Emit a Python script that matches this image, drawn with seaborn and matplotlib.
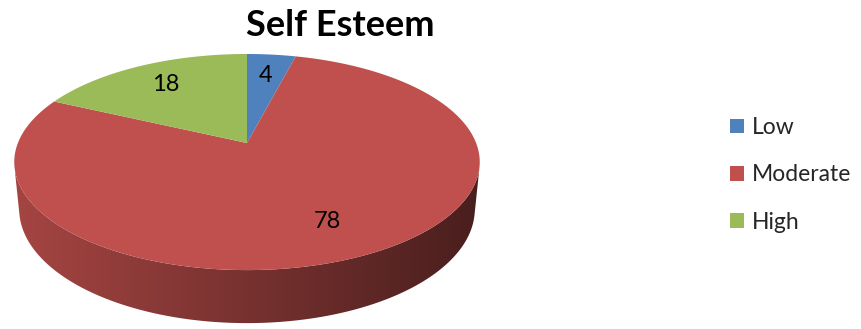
import numpy as np
import matplotlib
matplotlib.use("Agg")
import matplotlib.pyplot as plt
import seaborn as sns
from matplotlib.patches import Patch, Polygon
from matplotlib.colors import LinearSegmentedColormap, to_rgb
from matplotlib.transforms import Transform
from matplotlib.path import Path

categories = ["Low", "Moderate", "High"]
values = [4, 78, 18]
colors = ["#4F81BD", "#C0504D", "#9BBB59"]
title = "Self Esteem"

sns.set_theme(style="white")
plt.rcParams['font.family'] = ['Lato', 'DejaVu Sans']

W, H = 862, 329
fig = plt.figure(figsize=(W / 100, H / 100), dpi=100)

# ---- perspective camera for the 3-D pie (unit-radius disk, thickness h) ----
CX, CY = 247.0, 143.0          # screen position of the pie centre (pixels)
DIST, FOC = 5.05, 1157.0       # camera distance and focal length
PHI = np.arcsin(0.457)         # tilt of the view
THICK = 0.233                  # slab thickness (in pie radii)


def project(x, y, z=0.0):
    d = DIST + y * np.cos(PHI) - z * np.sin(PHI)
    X = CX + FOC * x / d
    Y = CY - FOC * (y * np.sin(PHI) + z * np.cos(PHI)) / d
    return X, Y


class Perspective(Transform):
    input_dims = output_dims = 2
    is_separable = False
    has_inverse = False

    def __init__(self, z=0.0):
        super().__init__()
        self.z = z

    def transform_non_affine(self, values):
        v = np.asarray(values, dtype=float).reshape(-1, 2)
        X, Y = project(v[:, 0], v[:, 1], self.z)
        return np.column_stack([X, Y])

    def transform_path_non_affine(self, path):
        pts = []
        for seg, code in path.iter_bezier():
            cp = seg.control_points
            if len(cp) == 1:
                pts.append(cp)
            else:
                pts.append(seg(np.linspace(0, 1, 40)[1:]))
        xy = self.transform_non_affine(np.vstack(pts))
        return Path(np.vstack([xy, xy[:1]]), closed=True)


ax = fig.add_axes([0, 0, 1, 1])
persp = Perspective(0.0) + ax.transData

wedges, texts, autotexts = ax.pie(
    values, colors=colors, startangle=90, counterclock=False,
    autopct=lambda p: f"{p:.0f}", pctdistance=0.73, radius=1,
    wedgeprops=dict(linewidth=0),
    textprops=dict(fontsize=17, color="black"))
ax.set_aspect('auto')
ax.set_xlim(0, W)
ax.set_ylim(H, 0)
ax.axis('off')

for w in wedges:
    w.set_transform(persp)
    w.set_zorder(2)
for t in autotexts:
    t.set_transform(persp)
    t.set_zorder(3)

# ---- visible side wall (front half between the two silhouette generators) ----
s = -1.0 / (DIST * np.cos(PHI))
vis0 = np.degrees(np.pi - np.arcsin(s))       # left silhouette
vis1 = np.degrees(2 * np.pi + np.arcsin(s))   # right silhouette
full = np.radians(np.linspace(vis0, vis1, 300))
sx_all, _ = project(np.cos(full), np.sin(full), 0.0)
xmin, xmax = sx_all.min(), sx_all.max()
grad = np.linspace(0, 1, 256).reshape(1, -1)

for w, c in zip(wedges, colors):
    for shift in (-720, -360, 0, 360):
        a0 = max(w.theta1 + shift, vis0)
        a1 = min(w.theta2 + shift, vis1)
        if a1 <= a0:
            continue
        th = np.radians(np.linspace(a0, a1, 200))
        tx, ty = project(np.cos(th), np.sin(th), 0.0)
        bx, by = project(np.cos(th), np.sin(th), -THICK)
        pts = np.vstack([np.column_stack([tx, ty]),
                         np.column_stack([bx[::-1], by[::-1]])])
        side = Polygon(pts, closed=True, facecolor='none', edgecolor='none')
        ax.add_patch(side)
        base = np.array(to_rgb(c))
        cmap = LinearSegmentedColormap.from_list(
            "side", [base * 0.86, base * 0.62, base * 0.38])
        im = ax.imshow(grad, cmap=cmap, aspect='auto', zorder=1,
                       extent=(xmin, xmax, by.max() + 5, ty.min() - 5))
        im.set_clip_path(side)

ax.set_xlim(0, W)
ax.set_ylim(H, 0)

fig.text(340 / W, 1 - 36 / H, title, ha='center', va='baseline',
         fontsize=26, fontweight='bold', color='black')

handles = [Patch(facecolor=c, edgecolor='none') for c in colors]
fig.legend(handles, categories, loc='center left',
           bbox_to_anchor=(709.5 / W, 1 - 175 / H), frameon=False, fontsize=16.5,
           handlelength=0.61, handleheight=0.61, handletextpad=0.35,
           labelspacing=1.15)

fig.savefig("out.png", dpi=100)
